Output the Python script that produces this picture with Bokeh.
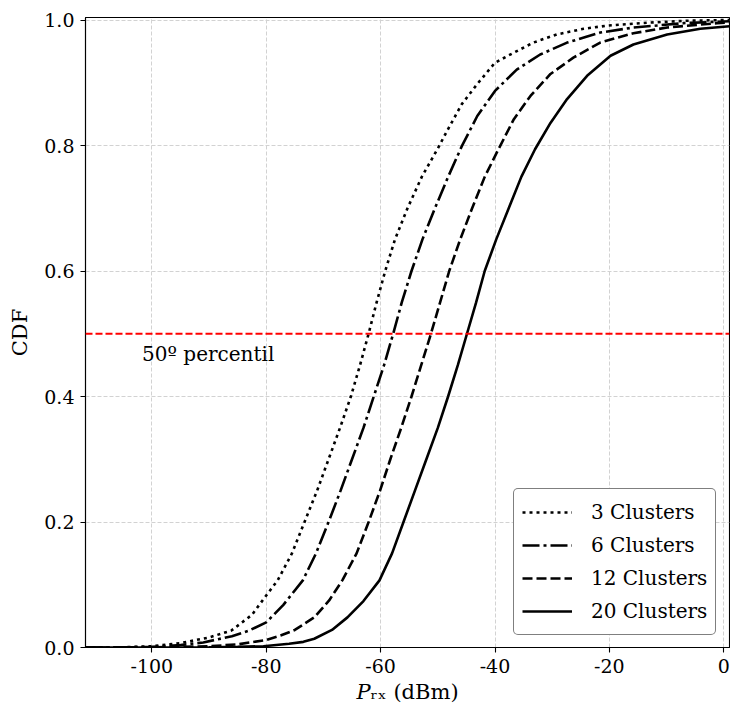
from bokeh.plotting import figure
from bokeh.models import Range1d, FixedTicker, Legend, LegendItem, Span, Label
from bokeh.embed import file_html
from bokeh.resources import INLINE

# Empirical CDF of received power (dBm) for each number of clusters
x_3 = [-111.6, -105, -100, -95, -90, -86.1, -82.5, -80, -78, -75.5, -73.3, -71.1, -69.1,
       -67.1, -65.2, -63.6, -62.1, -60.7, -59.2, -57.5, -55.3, -52.8, -49.9, -48.4,
       -45.8, -43.1, -40.0, -36.7, -33.3, -29.2, -24.5, -20.4, -12.8, -6, 1.0]
cdf_3 = [0.0, 0.0005, 0.002, 0.007, 0.016, 0.027, 0.052, 0.083, 0.107, 0.15, 0.2, 0.25, 0.3,
         0.35, 0.4, 0.45, 0.5, 0.55, 0.6, 0.65, 0.7, 0.75, 0.797, 0.823,
         0.866, 0.898, 0.932, 0.948, 0.964, 0.977, 0.986, 0.991, 0.996, 0.999, 1.0]

x_6 = [-111.6, -105, -100, -95, -91, -86, -83, -80, -77, -73.6, -71.3, -69.1, -67.0,
       -65.0, -63.0, -61.2, -59.4, -57.8, -56.3, -54.6, -52.7, -50.5, -48.2, -45.8,
       -43.1, -40.0, -36.2, -32.1, -27.4, -21.6, -15.8, -7.0, 1.0]
cdf_6 = [0.0, 0.0003, 0.001, 0.004, 0.008, 0.018, 0.027, 0.040, 0.068, 0.107, 0.15, 0.2, 0.25,
         0.3, 0.35, 0.4, 0.45, 0.5, 0.55, 0.6, 0.65, 0.7, 0.75, 0.799,
         0.847, 0.887, 0.921, 0.945, 0.964, 0.980, 0.988, 0.995, 0.998]

x_12 = [-111.6, -100, -90, -85, -80, -77.5, -75, -71.6, -69.0, -66.7, -64.2, -62.1, -60.1,
        -58.3, -56.4, -54.6, -52.9, -51.2, -49.6, -48.0, -46.1, -44.0, -41.8, -39.4,
        -36.7, -33.8, -30.3, -26.3, -21.6, -15.8, -9.9, -1.2, 1.0]
cdf_12 = [0.0, 0.0003, 0.002, 0.005, 0.012, 0.019, 0.028, 0.048, 0.075, 0.107, 0.15, 0.2, 0.25,
          0.3, 0.35, 0.4, 0.45, 0.5, 0.55, 0.6, 0.65, 0.7, 0.75, 0.794,
          0.842, 0.879, 0.914, 0.940, 0.964, 0.979, 0.988, 0.995, 0.996]

x_20 = [-111.6, -100, -90, -85, -80.5, -76, -73.5, -71.6, -68.5, -65.8, -63.0, -60.2, -58.0,
        -56.0, -54.0, -52.0, -50.0, -48.2, -46.5, -44.9, -43.3, -41.8, -39.8, -37.6,
        -35.4, -33.0, -30.3, -27.4, -23.9, -19.8, -15.8, -9.9, -4.1, 1.0]
cdf_20 = [0.0, 0.0001, 0.0005, 0.001, 0.002, 0.006, 0.009, 0.014, 0.028, 0.048, 0.074, 0.107, 0.15,
          0.2, 0.25, 0.3, 0.35, 0.4, 0.45, 0.5, 0.55, 0.6, 0.65, 0.7,
          0.75, 0.794, 0.836, 0.874, 0.911, 0.943, 0.961, 0.977, 0.986, 0.990]

series_labels = ["3 Clusters", "6 Clusters", "12 Clusters", "20 Clusters"]

x_ticks = [-100, -80, -60, -40, -20, 0]
x_tick_labels = ["-100", "-80", "-60", "-40", "-20", "0"]
y_ticks = [0.0, 0.2, 0.4, 0.6, 0.8, 1.0]
y_tick_labels = ["0.0", "0.2", "0.4", "0.6", "0.8", "1.0"]

x_title = "\U0001D443\u1D63\u2093 (dBm)"
y_title = "CDF"

median_level = 0.5
median_text = "50º percentil"

FONT = "DejaVu Serif"

p = figure(width=730, height=711,
           x_range=Range1d(-111.6, 1.0), y_range=Range1d(0.0, 1.004),
           output_backend="svg", toolbar_location=None,
           min_border_left=85, min_border_right=1,
           min_border_top=17, min_border_bottom=64)

p.background_fill_color = "white"
p.border_fill_color = "white"
p.outline_line_color = "black"
p.outline_line_width = 1.1

# grid
for g in (p.xgrid, p.ygrid):
    g.grid_line_color = "#d2d2d2"
    g.grid_line_width = 1
    g.grid_line_dash = "4 2"
p.xgrid.ticker = FixedTicker(ticks=x_ticks)
p.ygrid.ticker = FixedTicker(ticks=y_ticks)

# axes
for ax in (p.xaxis[0], p.yaxis[0]):
    ax.minor_tick_line_color = None
    ax.major_tick_in = 0
    ax.major_tick_out = 5
    ax.major_tick_line_width = 1.1
    ax.axis_line_width = 1.1
    ax.major_label_text_font = FONT
    ax.major_label_text_font_size = "19px"
    ax.major_label_text_color = "black"
    ax.major_label_standoff = 6
    ax.axis_label_text_font = FONT
    ax.axis_label_text_font_size = "21px"
    ax.axis_label_text_font_style = "normal"
    ax.axis_label_text_color = "black"

p.xaxis.ticker = FixedTicker(ticks=x_ticks)
p.xaxis.major_label_overrides = {float(t): s for t, s in zip(x_ticks, x_tick_labels)}
p.xaxis.axis_label = x_title
p.xaxis.axis_label_standoff = 4
p.yaxis.ticker = FixedTicker(ticks=y_ticks)
p.yaxis.major_label_overrides = {float(t): s for t, s in zip(y_ticks, y_tick_labels)}
p.yaxis.axis_label = y_title
p.yaxis.axis_label_standoff = 9

# CDF curves
lw = 2.6
r3 = p.line(x_3, cdf_3, line_color="black", line_width=lw, line_dash="3 4")
r6 = p.line(x_6, cdf_6, line_color="black", line_width=lw, line_dash="17 4 3 4")
r12 = p.line(x_12, cdf_12, line_color="black", line_width=lw, line_dash="10 4")
r20 = p.line(x_20, cdf_20, line_color="black", line_width=lw)

# median reference line
p.add_layout(Span(location=median_level, dimension="width", line_color="red",
                  line_width=2, line_dash="7 3"))
p.add_layout(Label(x=-101.7, y=0.487, text=median_text, text_baseline="top",
                   text_font=FONT, text_font_size="20px", text_color="black"))

legend = Legend(items=[LegendItem(label=series_labels[0], renderers=[r3]),
                       LegendItem(label=series_labels[1], renderers=[r6]),
                       LegendItem(label=series_labels[2], renderers=[r12]),
                       LegendItem(label=series_labels[3], renderers=[r20])],
                location=(428, 12))
legend.label_text_font = FONT
legend.label_text_font_size = "20px"
legend.label_text_color = "black"
legend.glyph_width = 50
legend.glyph_height = 30
legend.label_height = 30
legend.spacing = 3
legend.padding = 8
legend.margin = 0
legend.label_standoff = 19
legend.border_line_color = "black"
legend.border_line_width = 1.1
legend.background_fill_color = "white"
legend.background_fill_alpha = 1.0
if "border_radius" in Legend.properties():
    legend.border_radius = 5
p.add_layout(legend, "center")

open("out.html", "w").write(file_html(p, INLINE))
